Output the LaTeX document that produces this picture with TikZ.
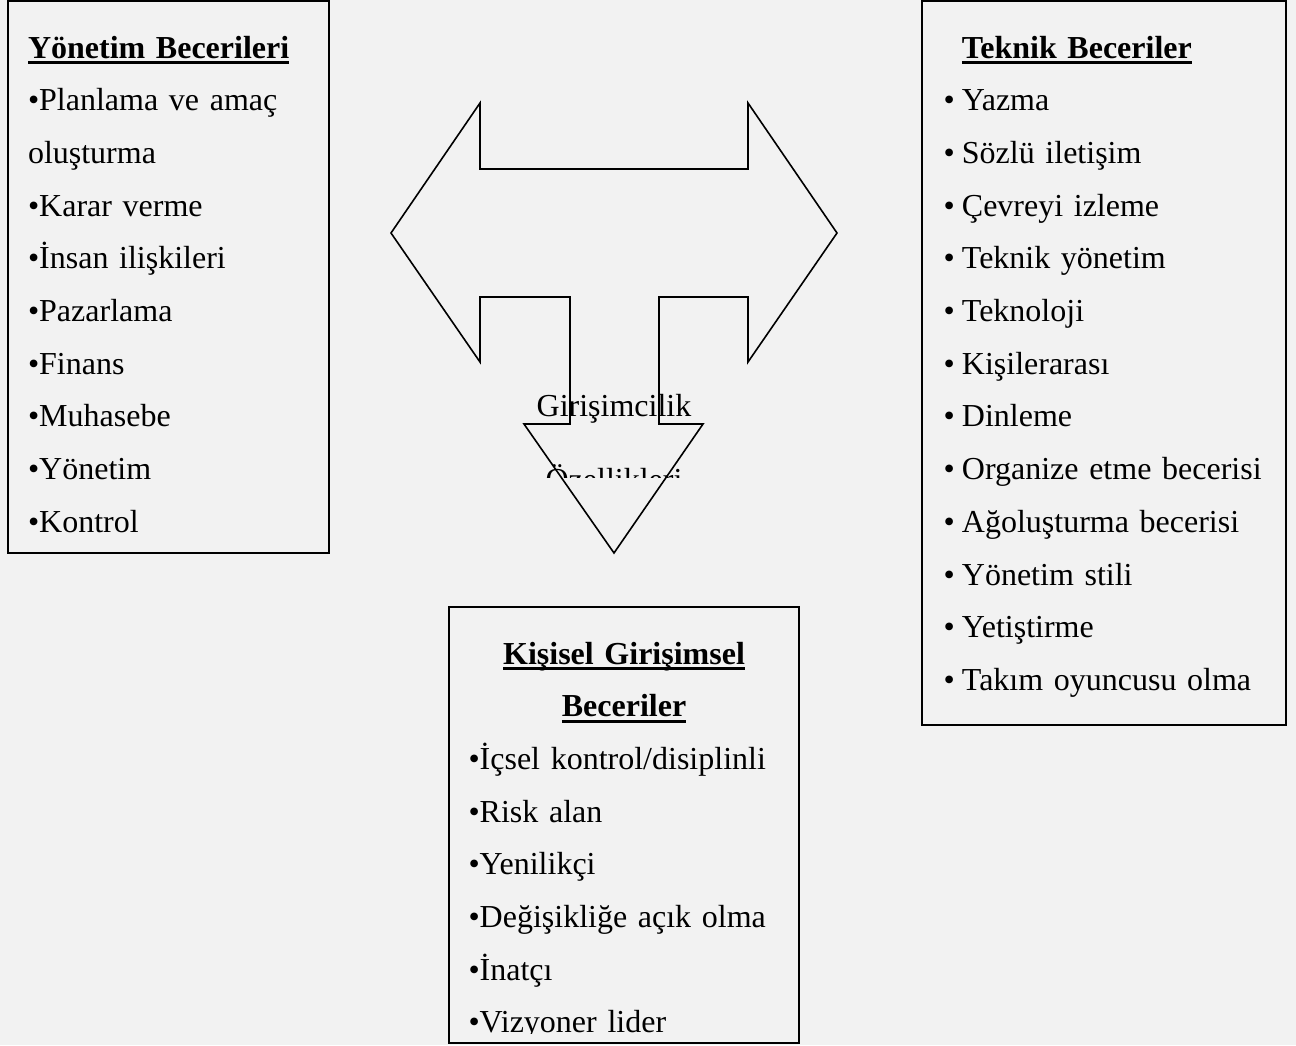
\documentclass[tikz,border=0pt]{standalone}
\usepackage{fontspec}
\setmainfont{Liberation Serif}
\usetikzlibrary{positioning}
\usetikzlibrary{chains,fit}
\definecolor{sayfagri}{HTML}{F2F2F2}
\newsavebox{\baslikkutu}
\newcommand{\altcizgili}[1]{\sbox{\baslikkutu}{\bfseries #1}\rlap{\rule[-3.1pt]{\wd\baslikkutu}{1.5pt}}\usebox{\baslikkutu}}
\newcommand{\madde}{•\hspace{3.6pt}}
\tikzset{
	kutu/.style={
		rectangle,
		draw=black, line width=1pt,
		inner sep=0pt},
	satir/.style={
		inner sep=0pt,
		outer sep=0pt,
		text height=12pt,
		text depth=4pt,
		align=left,
		on chain},
	okcizgi/.style={draw=black, line width=0.8pt, line join=miter},
}

\begin{document}
\begin{tikzpicture}
		[x=0.5pt, y=-0.5pt, node distance=10.35pt, font=\fontsize{16pt}{20pt}\selectfont]
		\fill[sayfagri] (0,0) rectangle (1296,1045);
		\useasboundingbox (0,0) rectangle (1296,1045);
		% kutular
		\node[kutu, fit={(8,1) (329,553)}] (yonetimkutu) {};
		\node[kutu, fit={(922,1) (1286,725)}] (teknikkutu) {};
		\node[kutu, fit={(449,607) (799,1043)}] (kisiselkutu) {};
		% uc yonlu ok
		\draw[okcizgi] (391,233) -- (480,103) -- (480,169) -- (748,169) -- (748,103)
			-- (837,233) -- (748,362) -- (748,297) -- (659,297) -- (659,424)
			-- (703,424) -- (614,553) -- (524,424) -- (570,424) -- (570,297)
			-- (480,297) -- (480,362) -- cycle;
		\begin{scope}
			\clip (500,360) rectangle (730,477);
			\node[inner sep=0pt, anchor=base] (girisim1) at (614,416) {Girişimcilik};
			\node[inner sep=0pt, anchor=base] (girisim2) at (614,490) {Özellikleri};
		\end{scope}
		% Yonetim Becerileri
		\begin{scope}[start chain=going below, satir/.append style={text width=149pt}]
			\node[satir, anchor=base west] (ybaslik) at (28,58) {\altcizgili{Yönetim Becerileri}};
			\node[satir] (y1) {•Planlama ve amaç};
			\node[satir] (y2) {oluşturma};
			\node[satir] (y3) {•Karar verme};
			\node[satir] (y4) {•İnsan ilişkileri};
			\node[satir] (y5) {•Pazarlama};
			\node[satir] (y6) {•Finans};
			\node[satir] (y7) {•Muhasebe};
			\node[satir] (y8) {•Yönetim};
			\node[satir] (y9) {•Kontrol};
		\end{scope}
		% Teknik Beceriler
		\begin{scope}[start chain=going below, satir/.append style={text width=168pt}]
			\node[satir, anchor=base west] (tbaslik) at (943.5,58) {\hphantom{\madde}\altcizgili{Teknik Beceriler}};
			\node[satir] (t1) {\madde Yazma};
			\node[satir] (t2) {\madde Sözlü iletişim};
			\node[satir] (t3) {\madde Çevreyi izleme};
			\node[satir] (t4) {\madde Teknik yönetim};
			\node[satir] (t5) {\madde Teknoloji};
			\node[satir] (t6) {\madde Kişilerarası};
			\node[satir] (t7) {\madde Dinleme};
			\node[satir] (t8) {\madde Organize etme becerisi};
			\node[satir] (t9) {\madde Ağoluşturma becerisi};
			\node[satir] (t10) {\madde Yönetim stili};
			\node[satir] (t11) {\madde Yetiştirme};
			\node[satir] (t12) {\madde Takım oyuncusu olma};
		\end{scope}
		% Kisisel Girisimsel Beceriler
		\begin{scope}[start chain=going below, satir/.append style={text width=155.5pt}]
			\clip (449,607) rectangle (799,1033);
			\node[satir, align=center, anchor=base west] (kbaslik1) at (468.5,664) {\altcizgili{Kişisel Girişimsel}};
			\node[satir, align=center] (kbaslik2) {\altcizgili{Beceriler}};
			\node[satir] (k1) {•İçsel kontrol/disiplinli};
			\node[satir] (k2) {•Risk alan};
			\node[satir] (k3) {•Yenilikçi};
			\node[satir] (k4) {•Değişikliğe açık olma};
			\node[satir] (k5) {•İnatçı};
			\node[satir] (k6) {•Vizyoner lider};
		\end{scope}
\end{tikzpicture}
\end{document}
